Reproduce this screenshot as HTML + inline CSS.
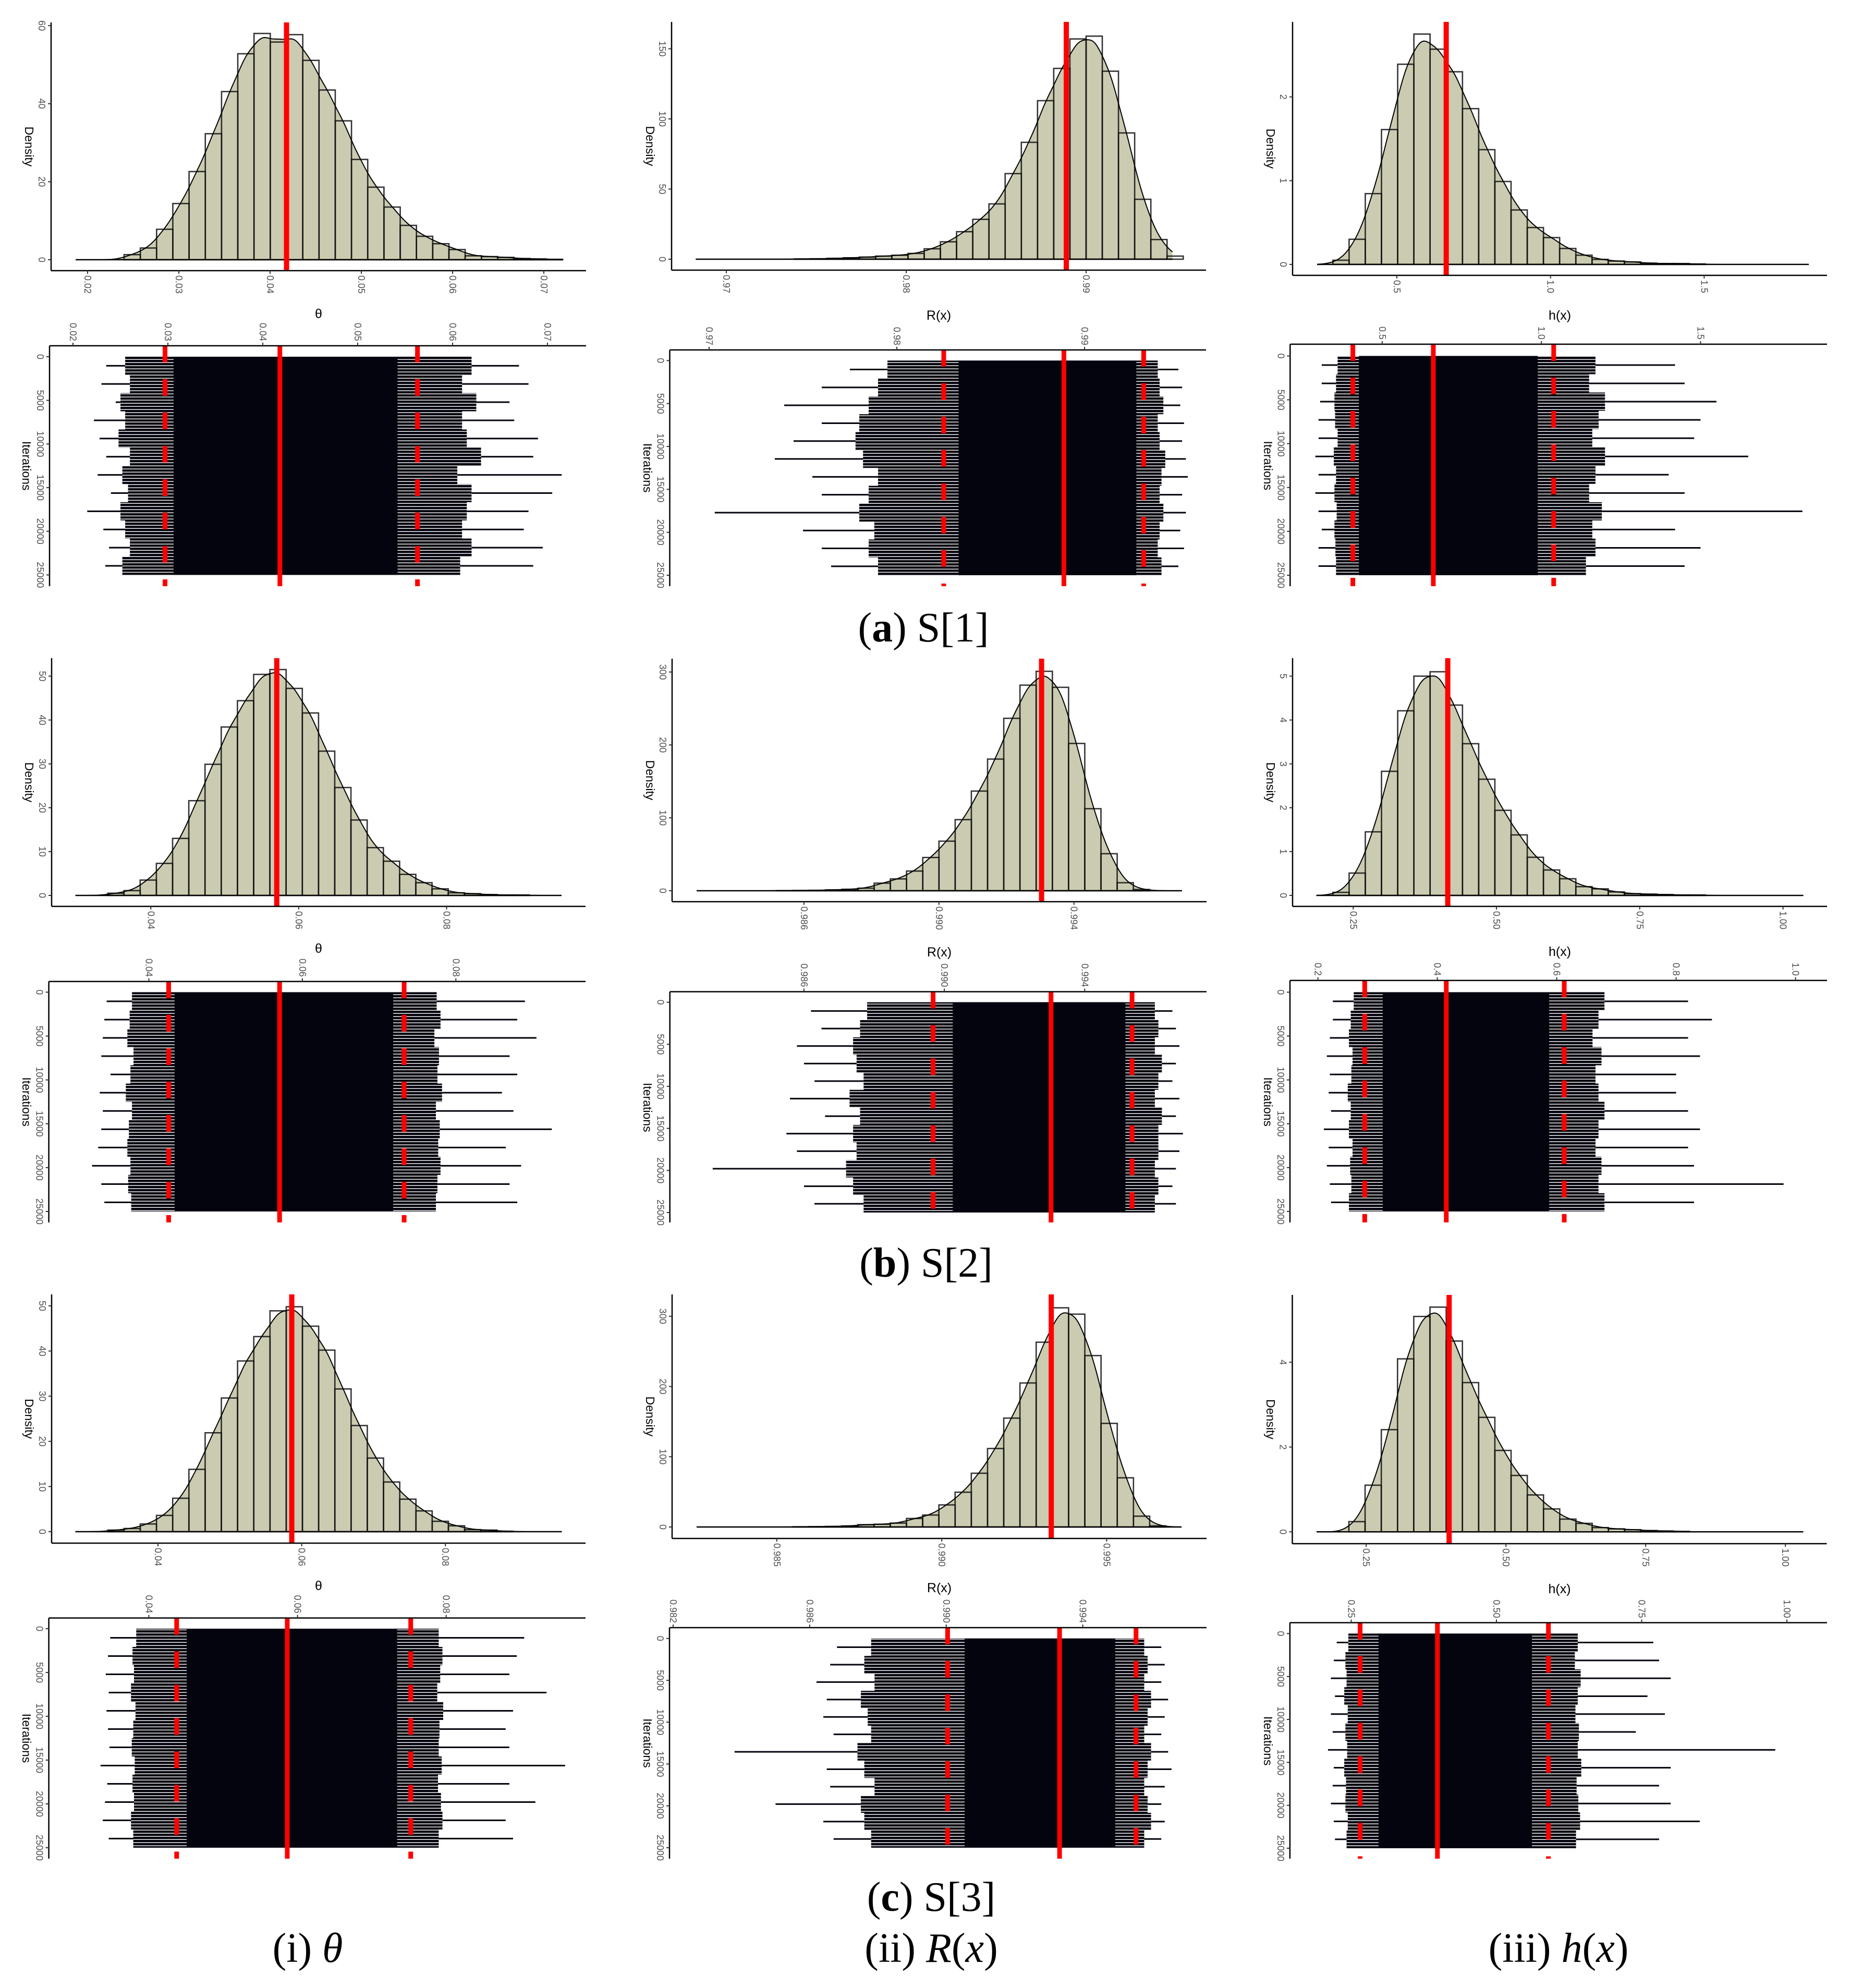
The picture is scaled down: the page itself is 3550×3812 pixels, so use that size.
<!DOCTYPE html>
<html><head><meta charset="utf-8">
<style>
html,body{margin:0;padding:0;background:#fff;}
svg{display:block;}
text{font-family:"Liberation Sans",sans-serif;}
.cap{font-family:"Liberation Serif",serif;font-size:80px;fill:#000;}
</style></head>
<body>
<svg id="fig" xmlns="http://www.w3.org/2000/svg" width="3550" height="3812" viewBox="0 0 3550 3812">
<defs>
<pattern id="stripes" width="12" height="6" patternUnits="userSpaceOnUse"><rect x="0" y="0" width="12" height="4.6" fill="#04040f"/></pattern>
</defs>
<rect x="0" y="0" width="3550" height="3812" fill="#fff"/>
<g id="plots"></g>
<text class="cap" x="1771" y="1230" text-anchor="middle">(<tspan font-weight="bold">a</tspan>) S[1]</text>
<text class="cap" x="1776" y="2448" text-anchor="middle">(<tspan font-weight="bold">b</tspan>) S[2]</text>
<text class="cap" x="1786" y="3664" text-anchor="middle">(<tspan font-weight="bold">c</tspan>) S[3]</text>
<text class="cap" x="590" y="3762" text-anchor="middle">(i) <tspan font-style="italic">θ</tspan></text>
<text class="cap" x="1786" y="3762" text-anchor="middle">(ii) <tspan font-style="italic">R</tspan>(<tspan font-style="italic">x</tspan>)</text>
<text class="cap" x="2989" y="3762" text-anchor="middle">(iii) <tspan font-style="italic">h</tspan>(<tspan font-style="italic">x</tspan>)</text>
</svg>
<script>
// ---------- histogram data ----------
const binStart = {a1:0.024,a2:0.9738,a3:0.2919,b1:0.03417,b2:0.9852,b3:0.2146,c1:0.03302,c2:0.98549,c3:0.219};
const binWidth = {a1:0.00178,a2:0.0009,a3:0.0527,b1:0.002193,b2:0.00048,b3:0.02826,c1:0.002257,c2:0.0004915,c3:0.02902};
const hA1 = [1.3,3.0,7.8,14.4,22.6,32.3,43.1,52.8,58,55.8,57.7,51.1,43.5,35.6,25.7,18.6,13.5,8.8,6.0,4.1,2.6,1.0,0.8,0.6,0.3,0.2,0.1];
const hA2 = [0.2,0.3,0.6,1.0,1.5,2.2,2.8,4.1,7.4,12.4,19.6,28.4,39.4,61,83.3,113,136,157,159,134,90,42.7,14,2.2];
const hA3 = [0.05,0.30,0.845,1.61,2.39,2.75,2.57,2.30,1.86,1.37,0.99,0.65,0.44,0.32,0.19,0.11,0.06,0.04,0.03,0.015,0.01,0.01,0.005];
const hB1 = [0.5,1.1,3.5,7.3,13,21.6,29.9,38.4,44.4,50.4,51.5,47.2,41.6,32.9,24.6,17.2,10.9,7.8,4.8,2.9,1.5,0.6,0.4,0.2,0.1,0.1];
const hB2 = [0.2,0.4,0.6,1.2,2,3.5,10.4,16.2,27,45.6,68,97.5,136.7,180.6,236.5,282,301,279,202,112.5,50.8,11,1.7];
const hB3 = [0.07,0.51,1.45,2.83,4.21,5.0,5.10,4.34,3.46,2.65,1.94,1.38,0.87,0.58,0.38,0.2,0.15,0.08,0.04,0.03,0.02,0.01,0.01];
const hC1 = [0.35,0.7,1.7,3.6,7.4,13.8,21.9,29.6,37.8,43.2,48.9,49.8,45.5,40.2,31.6,23.5,16.3,11.0,7.2,4.6,2.3,1.3,0.45,0.35,0.1];
const hC2 = [0.3,0.5,0.8,1.5,3.3,3.9,5.5,12.1,17,31.4,49.5,76.5,111.7,155,205,263,312,303,244,147.5,70,15.4,1.6];
const hC3 = [0.24,1.1,2.41,4.08,5.08,5.30,4.5,3.52,2.7,1.92,1.33,0.87,0.54,0.30,0.20,0.10,0.07,0.05,0.03,0.02,0.01];
const dataMin = {a1:0.0187,a2:0.9683,a3:0.2404,b1:0.0298,b2:0.98282,b3:0.1856,c1:0.0285,c2:0.98257,c3:0.1612};
const dataMax = {a1:0.0721,a2:0.9948,a3:1.8405,b1:0.09555,b2:0.9972,b3:1.0355,c1:0.0962,c2:0.99727,c3:1.032};
const medians = {a1:0.0418,a2:0.9889,a3:0.6606,b1:0.05703,b2:0.99304,b3:0.4150,c1:0.05862,c2:0.99332,c3:0.3984};
const ciLow = {a1:0.0297,a2:0.9825,a3:0.4078,b1:0.04258,b2:0.98968,b3:0.2784,c1:0.04374,c2:0.99004,c3:0.2653};
const ciHigh = {a1:0.0563,a2:0.99315,a3:1.0387,b1:0.07326,b2:0.99535,b3:0.6126,c1:0.07523,c2:0.99556,c3:0.5895};
// ---------- tick labels ----------
const histYTicks = {a1:[0,20,40,60],a2:[0,50,100,150],a3:[0,1,2],b1:[0,10,20,30,40,50],b2:[0,100,200,300],b3:[0,1,2,3,4,5],c1:[0,10,20,30,40,50],c2:[0,100,200,300],c3:[0,2,4]};
const histXTicks = {a1:['0.02','0.03','0.04','0.05','0.06','0.07'],a2:['0.97','0.98','0.99'],a3:['0.5','1.0','1.5'],b1:['0.04','0.06','0.08'],b2:['0.986','0.990','0.994'],b3:['0.25','0.50','0.75','1.00'],c1:['0.04','0.06','0.08'],c2:['0.985','0.990','0.995'],c3:['0.25','0.50','0.75','1.00']};
const traceXTicks = {a1:['0.02','0.03','0.04','0.05','0.06','0.07'],a2:['0.97','0.98','0.99'],a3:['0.5','1.0','1.5'],b1:['0.04','0.06','0.08'],b2:['0.986','0.990','0.994'],b3:['0.2','0.4','0.6','0.8','1.0'],c1:['0.04','0.06','0.08'],c2:['0.982','0.986','0.990','0.994'],c3:['0.25','0.50','0.75','1.00']};
const iterTicks = [0,5000,10000,15000,20000,25000];
const xTitles = {a1:'θ',a2:'R(x)',a3:'h(x)',b1:'θ',b2:'R(x)',b3:'h(x)',c1:'θ',c2:'R(x)',c3:'h(x)'};
// ---------- trace envelopes (value units, 12 bands over 25000 iterations) ----------
const coreLo = {a1:0.0306,a2:0.98329,a3:0.4268,b1:0.04336,b2:0.99024,b3:0.3086,c1:0.0451,c2:0.99054,c3:0.297};
const coreHi = {a1:0.0542,a2:0.99276,a3:0.9886,b1:0.07183,b2:0.99516,b3:0.5873,c1:0.0734,c2:0.99495,c3:0.561};
const midLA1=[0.0255,0.026,0.025,0.0255,0.0248,0.026,0.0252,0.0258,0.025,0.0255,0.026,0.0252];
const midRA1=[0.062,0.061,0.0625,0.061,0.0615,0.063,0.0605,0.062,0.0615,0.061,0.062,0.0608];
const outLA1=[0.0235,0.023,0.0245,0.0222,0.0228,0.0235,0.0226,0.024,0.0215,0.0232,0.0238,0.0234];
const outRA1=[0.067,0.068,0.066,0.0665,0.069,0.0685,0.0715,0.0705,0.068,0.0675,0.0695,0.0685];
const midLA2=[0.9795,0.979,0.9785,0.978,0.9778,0.9782,0.979,0.9785,0.978,0.9788,0.9785,0.979];
const midRA2=[0.9939,0.994,0.9942,0.9939,0.994,0.9943,0.9941,0.994,0.9942,0.994,0.9939,0.9941];
const outLA2=[0.9775,0.976,0.974,0.976,0.9745,0.9735,0.9755,0.976,0.9703,0.975,0.976,0.9765];
const outRA2=[0.9950,0.9952,0.9951,0.9953,0.9952,0.9954,0.9955,0.9952,0.9954,0.9951,0.9953,0.995];
const midLA3=[0.36,0.355,0.35,0.352,0.36,0.348,0.355,0.35,0.357,0.35,0.353,0.355];
const midRA3=[1.17,1.15,1.2,1.18,1.16,1.2,1.17,1.15,1.19,1.16,1.17,1.14];
const outLA3=[0.31,0.31,0.305,0.3,0.3,0.29,0.3,0.29,0.3,0.31,0.3,0.3];
const outRA3=[1.42,1.45,1.55,1.5,1.48,1.65,1.4,1.45,1.82,1.42,1.5,1.45];
const midLB1=[0.0378,0.0375,0.0372,0.038,0.0376,0.037,0.0378,0.0374,0.0372,0.0376,0.0373,0.0377];
const midRB1=[0.0775,0.078,0.0772,0.0778,0.0776,0.0782,0.0774,0.0779,0.0777,0.078,0.0776,0.0774];
const outLB1=[0.0345,0.0342,0.034,0.0338,0.035,0.0336,0.034,0.0338,0.0334,0.0326,0.0338,0.0342];
const outRB1=[0.089,0.088,0.0905,0.087,0.088,0.086,0.0875,0.0925,0.0865,0.0885,0.087,0.088];
const midLB2=[0.9878,0.9876,0.9874,0.9875,0.9877,0.9873,0.9876,0.9874,0.9875,0.9872,0.9874,0.9877];
const midRB2=[0.9960,0.9961,0.9960,0.9962,0.9961,0.9960,0.9962,0.9961,0.9961,0.9960,0.9961,0.9960];
const outLB2=[0.9862,0.9865,0.9858,0.9860,0.9863,0.9856,0.9866,0.9855,0.9858,0.9834,0.9860,0.9863];
const outRB2=[0.9965,0.9966,0.9967,0.9966,0.9965,0.9967,0.9966,0.9968,0.9967,0.9966,0.9965,0.9966];
const midLB3=[0.26,0.255,0.252,0.258,0.256,0.25,0.255,0.252,0.258,0.254,0.256,0.252];
const midRB3=[0.68,0.67,0.66,0.675,0.665,0.67,0.68,0.67,0.665,0.675,0.67,0.68];
const outLB3=[0.225,0.225,0.22,0.215,0.22,0.218,0.222,0.21,0.218,0.215,0.22,0.222];
const outRB3=[0.82,0.86,0.82,0.84,0.8,0.8,0.82,0.84,0.82,0.83,0.98,0.83];
const midLC1=[0.0383,0.0378,0.038,0.0376,0.0382,0.0379,0.0377,0.0381,0.0378,0.038,0.0376,0.0379];
const midRC1=[0.079,0.0795,0.0792,0.0788,0.0796,0.0791,0.079,0.0794,0.0789,0.0793,0.0795,0.079];
const outLC1=[0.0348,0.0345,0.0342,0.0346,0.0343,0.0345,0.0347,0.0335,0.0344,0.0341,0.0338,0.0346];
const outRC1=[0.0905,0.0895,0.0885,0.0935,0.089,0.088,0.0885,0.096,0.0885,0.092,0.088,0.089];
const midLC2=[0.9878,0.9876,0.9879,0.9875,0.9877,0.9878,0.9874,0.9876,0.9879,0.9875,0.9876,0.9878];
const midRC2=[0.9958,0.9959,0.9958,0.9960,0.9959,0.9958,0.9960,0.9959,0.9958,0.9959,0.9960,0.9958];
const outLC2=[0.9868,0.9866,0.9862,0.9865,0.9864,0.9867,0.9838,0.9865,0.9866,0.9850,0.9864,0.9867];
const outRC2=[0.9963,0.9964,0.9963,0.9965,0.9964,0.9963,0.9965,0.9966,0.9964,0.9963,0.9964,0.9963];
const midLC3=[0.245,0.24,0.242,0.238,0.244,0.24,0.243,0.238,0.241,0.24,0.244,0.242];
const midRC3=[0.64,0.635,0.645,0.64,0.636,0.642,0.64,0.646,0.638,0.641,0.644,0.637];
const outLC3=[0.225,0.22,0.215,0.222,0.215,0.218,0.21,0.22,0.218,0.215,0.22,0.222];
const outRC3=[0.77,0.78,0.8,0.76,0.79,0.74,0.98,0.8,0.78,0.8,0.85,0.78];

// ---------- layout (pixel geometry only) ----------
const HG = {
 a1:{col:0,ax:98,top:43,base:519,right:1124,y0:498,yk:7.48,xv:0.02,xp:168,xk:17500,lab:602},
 a2:{col:1191,ax:97,top:42,base:518,right:1122,y0:497,yk:2.69,xv:0.97,xp:202,xk:34500,lab:605},
 a3:{col:2381,ax:98,top:42,base:528,right:1123,y0:507,yk:160.6,xv:0.5,xp:298,xk:589.4,lab:605},
 b1:{col:0,ax:99,top:1262,base:1738,right:1123,y0:1717,yk:8.41,xv:0.04,xp:289.3,xk:14180,lab:1819},
 b2:{col:1191,ax:98,top:1263,base:1729,right:1123,y0:1708,yk:1.398,xv:0.986,xp:350.9,xk:64730,lab:1826},
 b3:{col:2381,ax:98,top:1262,base:1738,right:1123,y0:1717,yk:84.1,xv:0.25,xp:214.3,xk:1099,lab:1825},
 c1:{col:0,ax:99,top:2482,base:2959,right:1123,y0:2937,yk:8.66,xv:0.04,xp:303,xk:13780,lab:3041},
 c2:{col:1191,ax:98,top:2482,base:2950,right:1123,y0:2928,yk:1.347,xv:0.985,xp:298.8,xk:63270,lab:3045},
 c3:{col:2381,ax:97.5,top:2483,base:2960,right:1122.5,y0:2937.3,yk:81.3,xv:0.25,xp:239.2,xk:1072,lab:3047}
};
const TG = {
 a1:{col:0,ax:95,top:663,bot:1124,right:1124,i0:684,i25:1102.4,xv:0.02,xp:140,xk:18200},
 a2:{col:1191,ax:93.5,top:671,bot:1124,right:1122,i0:691.4,i25:1103,xv:0.97,xp:169,xk:36000},
 a3:{col:2381,ax:93.3,top:660,bot:1124,right:1123,i0:682.5,i25:1103,xv:0.5,xp:269.9,xk:610.5},
 b1:{col:0,ax:93.6,top:1882,bot:2344,right:1123,i0:1902.5,i25:2323,xv:0.04,xp:285.5,xk:14720},
 b2:{col:1191,ax:93.7,top:1901.6,bot:2344,right:1123,i0:1921.8,i25:2325,xv:0.986,xp:350.9,xk:67300},
 b3:{col:2381,ax:93,top:1880,bot:2344,right:1123,i0:1902.5,i25:2323,xv:0.2,xp:146.6,xk:1145},
 c1:{col:0,ax:93.6,top:3102.5,bot:3564,right:1123,i0:3123,i25:3543,xv:0.04,xp:285.5,xk:14255},
 c2:{col:1191,ax:93,top:3121,bot:3564,right:1123,i0:3141.8,i25:3543,xv:0.982,xp:100,xk:65470},
 c3:{col:2381,ax:92.9,top:3111.5,bot:3564,right:1123,i0:3132.4,i25:3544,xv:0.25,xp:210.5,xk:1114}
};
const HEIGHTS = {a1:hA1,a2:hA2,a3:hA3,b1:hB1,b2:hB2,b3:hB3,c1:hC1,c2:hC2,c3:hC3};
const ENV = {
 a1:[midLA1,midRA1,outLA1,outRA1],a2:[midLA2,midRA2,outLA2,outRA2],a3:[midLA3,midRA3,outLA3,outRA3],
 b1:[midLB1,midRB1,outLB1,outRB1],b2:[midLB2,midRB2,outLB2,outRB2],b3:[midLB3,midRB3,outLB3,outRB3],
 c1:[midLC1,midRC1,outLC1,outRC1],c2:[midLC2,midRC2,outLC2,outRC2],c3:[midLC3,midRC3,outLC3,outRC3]
};

const NS='http://www.w3.org/2000/svg';
const root=document.getElementById('plots');
function mk(tag, attrs, parent){const e=document.createElementNS(NS,tag);for(const k in attrs)e.setAttribute(k,attrs[k]);(parent||root).appendChild(e);return e;}
const TICKC='#4d4d4d';

function drawHist(p){
  const g=HG[p], off=g.col, hs=HEIGHTS[p], st=binStart[p], w=binWidth[p];
  const grp=mk('g',{});
  
  
  const xs=v=>off+g.xp+(v-g.xv)*g.xk;
  const ys=d=>g.y0-d*g.yk;
  const bw=0.6*w, N=300, pts=[];
  for(let k=0;k<=N;k++){
    const x=dataMin[p]+(dataMax[p]-dataMin[p])*k/N;
    let d=0;
    for(let i=0;i<hs.length;i++){const c=st+(i+0.5)*w;const z=(x-c)/bw;d+=hs[i]*w*Math.exp(-0.5*z*z)/(bw*Math.sqrt(2*Math.PI));}
    pts.push([xs(x),ys(d)]);
  }
  const area=mk('polygon',{points:[[xs(dataMin[p]),ys(0)],...pts,[xs(dataMax[p]),ys(0)]].map(q=>q.join(',')).join(' '),fill:'#cbcbb1',stroke:'none'},grp);
  
  
  for(let i=0;i<hs.length;i++){
    const x0=xs(st+i*w), x1=xs(st+(i+1)*w);
    const r=mk('rect',{x:x0,y:ys(hs[i]),width:x1-x0,height:ys(0)-ys(hs[i]),fill:'none',stroke:'#111','stroke-width':2.6,'stroke-opacity':0.85},grp);
    
    
  }
  const base=mk('line',{x1:xs(dataMin[p]),x2:xs(dataMax[p]),y1:ys(0),y2:ys(0),stroke:'#000','stroke-width':2.5},grp);
  
  
  const curve=mk('polyline',{points:pts.map(q=>q.join(',')).join(' '),fill:'none',stroke:'#000','stroke-width':2},grp);
  
  
  const med=mk('line',{x1:xs(medians[p]),x2:xs(medians[p]),y1:g.top,y2:g.base,stroke:'#ff0000','stroke-width':10},grp);
  
  
  const yax=mk('line',{x1:off+g.ax,x2:off+g.ax,y1:g.top,y2:g.base,stroke:'#000','stroke-width':2.5},grp);
  
  
  const xax=mk('line',{x1:off+g.ax,x2:off+g.right,y1:g.base,y2:g.base,stroke:'#000','stroke-width':2.5},grp);
  
  
  histYTicks[p].forEach(t=>{
    const y=ys(t);
    const tk=mk('line',{x1:off+g.ax-6,x2:off+g.ax,y1:y,y2:y,stroke:'#333','stroke-width':2},grp);
    
    
    const tl=mk('text',{transform:`translate(${off+g.ax-18},${y}) rotate(90)`,'text-anchor':'middle','dominant-baseline':'central','font-size':18,fill:TICKC},grp);
    tl.textContent=String(t);
    
    
  });
  histXTicks[p].forEach(t=>{
    const x=xs(parseFloat(t));
    const tk=mk('line',{x1:x,x2:x,y1:g.base,y2:g.base+6,stroke:'#333','stroke-width':2},grp);
    
    
    const tl=mk('text',{transform:`translate(${x},${g.base+9}) rotate(90)`,'text-anchor':'start','dominant-baseline':'central','font-size':18,fill:TICKC},grp);
    tl.textContent=t;
    
    
  });
  const yt=mk('text',{transform:`translate(${off+56},${(g.top+g.base)/2}) rotate(90)`,'text-anchor':'middle','dominant-baseline':'central','font-size':23,fill:'#000'},grp);
  yt.textContent='Density';
  
  
  const xt=mk('text',{x:off+(g.ax+g.right)/2,y:g.lab,'text-anchor':'middle','dominant-baseline':'central','font-size':25,fill:'#000'},grp);
  xt.textContent=xTitles[p];
  
  
}

function drawTrace(p){
  const g=TG[p], off=g.col, env=ENV[p];
  const grp=mk('g',{});
  
  
  const xs=v=>off+g.xp+(v-g.xv)*g.xk;
  const ys=it=>g.i0+(g.i25-g.i0)*it/25000;
  const nb=env[0].length, bh=25000/nb;
  const L=[],R=[];
  for(let i=0;i<nb;i++){
    L.push([xs(env[0][i]),ys(i*bh)]);L.push([xs(env[0][i]),ys((i+1)*bh)]);
    R.push([xs(env[1][i]),ys(i*bh)]);R.push([xs(env[1][i]),ys((i+1)*bh)]);
  }
  const poly=mk('polygon',{points:[...L,...R.reverse()].map(q=>q.join(',')).join(' '),fill:'url(#stripes)'},grp);
  
  
  const core=mk('rect',{x:xs(coreLo[p]),y:ys(0),width:xs(coreHi[p])-xs(coreLo[p]),height:ys(25000)-ys(0),fill:'#04040f'},grp);
  
  
  for(let i=0;i<nb;i++){
    const y=ys((i+0.5)*bh);
    const sl=mk('line',{x1:xs(env[2][i]),x2:xs(env[0][i]),y1:y,y2:y,stroke:'#04040f','stroke-width':3},grp);
    
    
    const sr=mk('line',{x1:xs(env[1][i]),x2:xs(env[3][i]),y1:y,y2:y,stroke:'#04040f','stroke-width':3},grp);
    
    
  }
  [ciLow[p],ciHigh[p]].forEach(v=>{
    const d=mk('line',{x1:xs(v),x2:xs(v),y1:g.top,y2:g.bot,stroke:'#ff0000','stroke-width':9,'stroke-dasharray':'32 32'},grp);
    
    
  });
  const med=mk('line',{x1:xs(medians[p]),x2:xs(medians[p]),y1:g.top,y2:g.bot,stroke:'#ff0000','stroke-width':9},grp);
  
  
  const xax=mk('line',{x1:off+g.ax,x2:off+g.right,y1:g.top,y2:g.top,stroke:'#000','stroke-width':2.5},grp);
  
  
  const yax=mk('line',{x1:off+g.ax,x2:off+g.ax,y1:g.top,y2:g.bot,stroke:'#000','stroke-width':2.5},grp);
  
  
  traceXTicks[p].forEach(t=>{
    const x=xs(parseFloat(t));
    const tk=mk('line',{x1:x,x2:x,y1:g.top-6,y2:g.top,stroke:'#333','stroke-width':2},grp);
    
    
    const tl=mk('text',{transform:`translate(${x},${g.top-9}) rotate(90)`,'text-anchor':'end','dominant-baseline':'central','font-size':18,fill:TICKC},grp);
    tl.textContent=t;
    
    
  });
  iterTicks.forEach(t=>{
    const y=ys(t);
    const tk=mk('line',{x1:off+g.ax-6,x2:off+g.ax,y1:y,y2:y,stroke:'#333','stroke-width':2},grp);
    
    
    const tl=mk('text',{transform:`translate(${off+g.ax-18},${y}) rotate(90)`,'text-anchor':'middle','dominant-baseline':'central','font-size':18,fill:TICKC},grp);
    tl.textContent=String(t);
    
    
  });
  const yt=mk('text',{transform:`translate(${off+51},${(g.i0+g.i25)/2}) rotate(90)`,'text-anchor':'middle','dominant-baseline':'central','font-size':23,fill:'#000'},grp);
  yt.textContent='Iterations';
  
  
}

['a1','a2','a3','b1','b2','b3','c1','c2','c3'].forEach(p=>{drawHist(p);drawTrace(p);});
</script>
</body></html>
